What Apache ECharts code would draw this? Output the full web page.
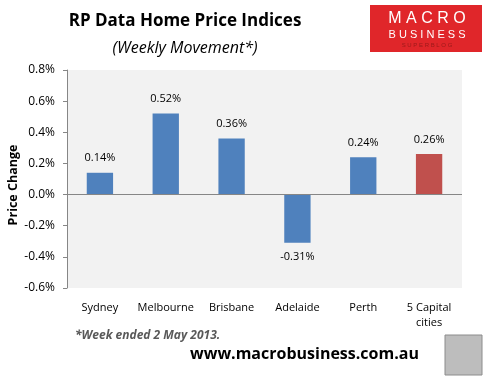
<!DOCTYPE html>
<html><head><meta charset="utf-8">
<script src="https://cdn.jsdelivr.net/npm/echarts@6/dist/echarts.min.js"></script>
<style>html,body{margin:0;padding:0;background:#fff}#c{width:490px;height:383px}</style>
</head><body><div id="c"></div>
<script>
var categories = ['Sydney', 'Melbourne', 'Brisbane', 'Adelaide', 'Perth', '5 Capital\ncities'];
var values = [0.14, 0.52, 0.36, -0.31, 0.24, 0.26];
var barColors = ['#4f81bd', '#4f81bd', '#4f81bd', '#4f81bd', '#4f81bd', '#c0504d'];
var yTicks = [-0.6, -0.4, -0.2, 0, 0.2, 0.4, 0.6, 0.8];
var yAxisTitle = 'Price Change';

var font = 'Liberation Sans, Arial, sans-serif';
var chart = echarts.init(document.getElementById('c'), null, {renderer: 'canvas'});
chart.setOption({
  animation: false,
  title: [
    {text: 'RP Data Home Price Indices', left: 180, top: 8, textAlign: 'center',
     textStyle: {fontFamily: 'Open Sans, sans-serif', fontSize: 17, fontWeight: 'bold', color: '#000'}},
    {text: '(Weekly Movement*)', left: 180, top: 35, textAlign: 'center',
     textStyle: {fontFamily: 'Open Sans, sans-serif', fontSize: 16, fontStyle: 'italic', fontWeight: 'normal', color: '#000'}}
  ],
  grid: {left: 67, right: 28, top: 70, bottom: 95, backgroundColor: '#f2f2f2', show: true, borderWidth: 0},
  xAxis: {
    type: 'category', data: categories, position: 'bottom',
    axisLine: {show: false}, axisTick: {show: false},
    axisLabel: {fontFamily: 'Open Sans, sans-serif', fontSize: 11, color: '#000', margin: 12, interval: 0, lineHeight: 15}
  },
  yAxis: {
    type: 'value', min: -0.6, max: 0.8, interval: 0.2,
    axisLine: {show: true, lineStyle: {color: '#868686'}},
    axisTick: {show: true, inside: false, length: 4, lineStyle: {color: '#868686'}},
    splitLine: {show: false},
    axisLabel: {fontFamily: 'Open Sans, sans-serif', fontSize: 12, color: '#000', margin: 12,
      formatter: function (v) { return (Math.round(v * 10) / 10).toFixed(1) + '%'; }}
  },
  series: [{
    type: 'bar', barWidth: '40%',
    data: values.map(function (v, i) { return {value: v, itemStyle: {color: barColors[i]}}; }),
    label: {show: true, position: 'outside', distance: 9, fontFamily: 'Open Sans, sans-serif', fontSize: 11, color: '#000',
      formatter: function (p) { return p.value.toFixed(2) + '%'; }},
    markLine: {silent: true, symbol: 'none', label: {show: false},
      lineStyle: {color: '#868686', type: 'solid', width: 1}, data: [{yAxis: 0}]}
  }],
  graphic: [
    {type: 'text', x: 13, y: 185, rotation: Math.PI / 2,
     style: {text: yAxisTitle, align: 'center', verticalAlign: 'middle', fontFamily: 'Open Sans, sans-serif', fontSize: 12.5, fontWeight: 'bold', fill: '#000'}},
    {type: 'rect', shape: {x: 370, y: 5, width: 112, height: 47}, style: {fill: '#e0262a'}},
    {type: 'text', x: 427, y: 11, style: {text: 'M A C R O', align: 'center', fontFamily: font, fontSize: 16, fill: '#fff'}},
    {type: 'text', x: 427, y: 29, style: {text: 'B U S I N E S S', align: 'center', fontFamily: font, fontSize: 11, fill: '#fff'}},
    {type: 'text', x: 427, y: 42, style: {text: 'S U P E R B L O G', align: 'center', fontFamily: font, fontSize: 6, fill: '#9a1a1a'}},
    {type: 'text', left: 75, top: 330, style: {text: '*Week ended 2 May 2013.', fontFamily: 'Open Sans, sans-serif', fontSize: 12, fontStyle: 'italic', fontWeight: 'bold', fill: '#595959'}},
    {type: 'text', left: 190, top: 346, style: {text: 'www.macrobusiness.com.au', fontFamily: 'Open Sans, sans-serif', fontSize: 16, fontWeight: 'bold', fill: '#000'}},
    {type: 'rect', shape: {x: 445, y: 335, width: 37, height: 40}, style: {fill: '#bdbdbd', stroke: '#8c8c8c', lineWidth: 1}}
  ]
});
</script></body></html>
